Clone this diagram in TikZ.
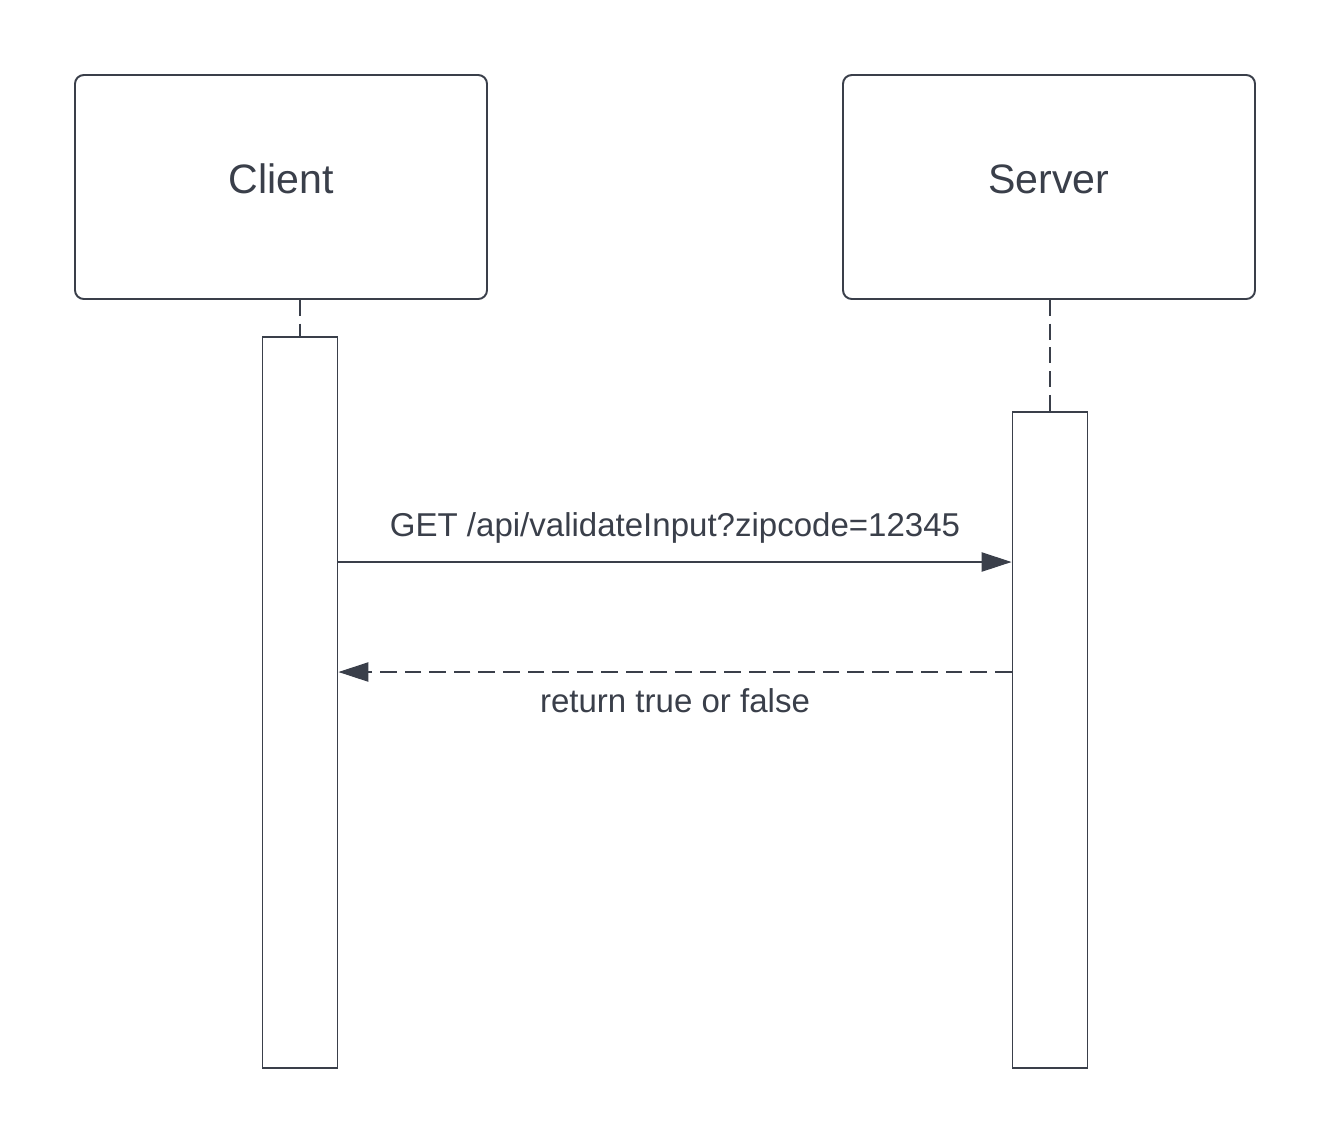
\documentclass[tikz,border=0pt]{standalone}
\usepackage{fontspec}
\setmainfont{Liberation Sans}
\usetikzlibrary{arrows.meta}
\definecolor{ink}{HTML}{3A3F4A}
\tikzset{actor/.style={draw=ink, line width=1.1pt, rounded corners=5pt, minimum width=412*0.02cm, minimum height=224*0.02cm, font=\fontsize{23.4}{28}\selectfont, text=ink, text height=0.716em, text depth=0pt},
  bar/.style={draw=ink, line width=1.1pt, minimum width=75*0.02cm, inner sep=0pt},
  lifeline/.style={draw=ink, line width=0.6pt, dash pattern=on 9pt off 4.5pt},
  msg/.style={draw=ink, line width=0.6pt, -{Triangle[length=17pt, width=11pt]}},
  reply/.style={msg, dash pattern=on 9.5pt off 4.5pt},
  lbl/.style={font=\fontsize{18.8}{22}\selectfont, text=ink}}
\begin{document}
\begin{tikzpicture}[x=0.02cm, y=-0.02cm]
\useasboundingbox[fill=white] (0,0) rectangle (1331,1144);
% actors
\node[actor] (client) at (281,187) {Client};
\node[actor] (server) at (1049,187) {Server};
% activation bars
\node[bar, minimum height=731*0.02cm] (clientbar) at (300,702.5) {};
\node[bar, minimum height=656*0.02cm] (serverbar) at (1050,740) {};
\draw[lifeline] (clientbar.north |- client.south) -- (clientbar.north);
\draw[lifeline] (serverbar.north |- server.south) -- (serverbar.north);
% messages
\coordinate (reqy) at (0,562);
\coordinate (repy) at (0,672);
\draw[msg] (clientbar.east |- reqy) -- (serverbar.west |- reqy)
  node[lbl, midway, above=7pt] (reqlbl) {GET /api/validateInput?zipcode=12345};
\draw[reply] (serverbar.west |- repy) -- (clientbar.east |- repy)
  node[lbl, midway, below=6pt] (replbl) {return true or false};
\end{tikzpicture}
\end{document}
